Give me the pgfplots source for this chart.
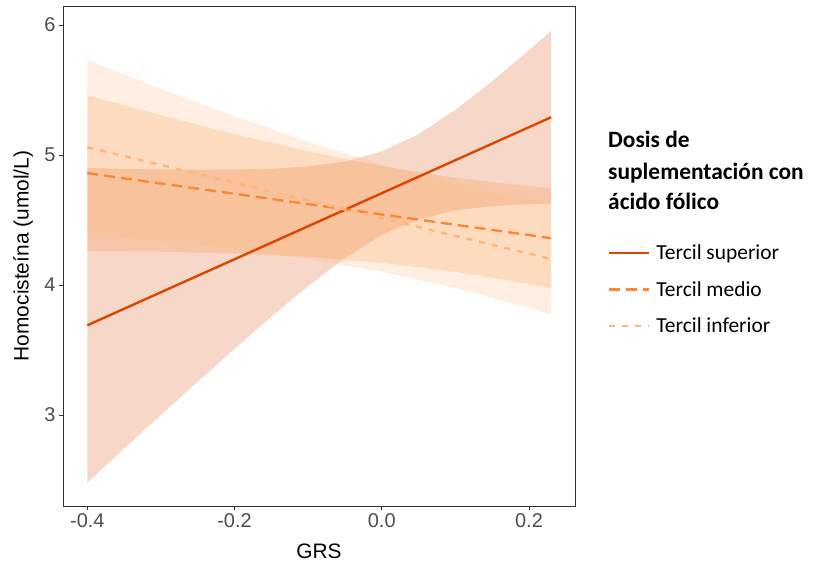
\documentclass[border=0pt]{standalone}
\usepackage{fontspec}
\setmainfont{Liberation Sans}
\newfontfamily\calibri{Carlito}
\usepackage{pgfplots}
\pgfplotsset{compat=1.18}
\definecolor{supcol}{HTML}{D94801}
\definecolor{medcol}{HTML}{F98838}
\definecolor{infcol}{HTML}{FDB77A}
\definecolor{tickgray}{HTML}{4D4D4D}
\definecolor{framegray}{HTML}{333333}
\begin{document}
\begin{tikzpicture}
\begin{axis}[
  at={(0,0)}, anchor=south west,
  scale only axis, width=512bp, height=500bp,
  xmin=-0.433, xmax=0.2625, ymin=2.30, ymax=6.146,
  xtick={-0.4,-0.2,0,0.2}, xticklabels={-0.4,-0.2,0.0,0.2},
  ytick={3,4,5,6}, yticklabels={3,4,5,6},
  xtick pos=bottom, ytick pos=left,
  tick align=outside, major tick length=4bp,
  tick style={framegray, line width=0.8bp},
  axis line style={framegray, line width=0.9bp},
  ticklabel style={font=\fontsize{20}{24}\selectfont, text=tickgray},
  xlabel={GRS}, ylabel={Homocisteína (umol/L)},
  label style={font=\fontsize{21}{25}\selectfont},
  xlabel style={at={(axis description cs:0.5,-0.09)}, anchor=center},
  ylabel style={at={(axis description cs:-0.078,0.5)}, anchor=center},
  clip=false,
  legend style={at={(axis description cs:1.0645,0.524)}, anchor=north west,
    draw=none, fill=none, inner sep=0pt, outer sep=0pt, row sep=18.5bp,
    font=\calibri\fontsize{21.5}{24}\selectfont,
    nodes={inner sep=0pt, text height=16bp, text depth=2bp},
    /tikz/every odd column/.append style={column sep=6bp}},
  legend cell align=left,
  legend image code/.code={\draw[#1] (0bp,0bp) -- (40bp,0bp);},
]
% confidence bands
\addplot[draw=none, fill=supcol, fill opacity=0.22, forget plot] coordinates {
 (-0.4,4.900) (-0.35,4.893) (-0.3,4.888) (-0.25,4.886) (-0.2,4.887) (-0.15,4.894)
 (-0.1,4.912) (-0.05,4.950) (0,5.027) (0.05,5.160) (0.1,5.347) (0.15,5.567)
 (0.2,5.806) (0.23,5.954)
 (0.23,4.626) (0.2,4.622) (0.15,4.607) (0.1,4.573) (0.05,4.506) (0,4.385)
 (-0.05,4.208) (-0.1,3.992) (-0.15,3.756) (-0.2,3.509) (-0.25,3.256) (-0.3,3.000)
 (-0.35,2.741) (-0.4,2.480)} -- cycle;
\addplot[draw=none, fill=medcol, fill opacity=0.22, forget plot] coordinates {
 (-0.4,5.460) (-0.3,5.306) (-0.2,5.160) (-0.1,5.028) (0,4.914) (0.1,4.824) (0.2,4.760) (0.23,4.745)
 (0.23,3.975) (0.2,4.008) (0.1,4.102) (0,4.170) (-0.1,4.216) (-0.2,4.242) (-0.3,4.256) (-0.4,4.260)} -- cycle;
\addplot[draw=none, fill=infcol, fill opacity=0.22, forget plot] coordinates {
 (-0.4,5.730) (-0.3,5.509) (-0.2,5.298) (-0.1,5.101) (0,4.926) (0.1,4.777) (0.2,4.659) (0.23,4.628)
 (0.23,3.772) (0.2,3.823) (0.1,3.977) (0,4.102) (-0.1,4.199) (-0.2,4.276) (-0.3,4.337) (-0.4,4.390)} -- cycle;
% fitted lines
\addplot[draw=supcol, line width=2.4bp] coordinates {(-0.4,3.69) (0.23,5.29)};
\addlegendentry{Tercil superior}
\addplot[draw=medcol, line width=2.4bp, dash pattern=on 11bp off 6bp] coordinates {(-0.4,4.86) (0.23,4.36)};
\addlegendentry{Tercil medio}
\addplot[draw=infcol, line width=2.4bp, dash pattern=on 6bp off 7bp] coordinates {(-0.4,5.06) (0.23,4.20)};
\addlegendentry{Tercil inferior}
% legend title
\node[anchor=base west, inner sep=0pt, font=\calibri\bfseries\fontsize{23.5}{28}\selectfont] at (axis description cs:1.0645,0.716) {Dosis de};
\node[anchor=base west, inner sep=0pt, font=\calibri\bfseries\fontsize{23.5}{28}\selectfont] at (axis description cs:1.0645,0.652) {suplementación con};
\node[anchor=base west, inner sep=0pt, font=\calibri\bfseries\fontsize{23.5}{28}\selectfont] at (axis description cs:1.0645,0.592) {ácido fólico};
\end{axis}
\pgfresetboundingbox
\path[use as bounding box] (-63bp,-61bp) rectangle (750bp,506bp);
\end{tikzpicture}
\end{document}
